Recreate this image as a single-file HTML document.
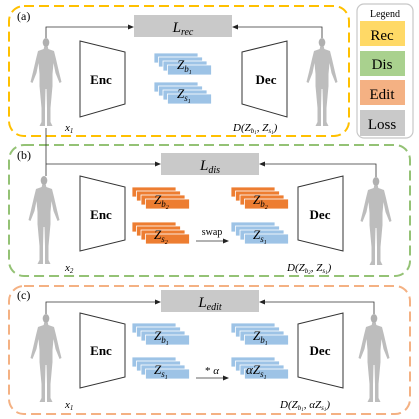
<!DOCTYPE html>
<html><head><style>
html,body{margin:0;padding:0;background:#fff;}
svg{display:block;font-family:"Liberation Serif",serif;}
</style></head><body>
<svg width="419" height="419" viewBox="0 0 419 419" xmlns="http://www.w3.org/2000/svg">
<defs>
<marker id="ar" markerWidth="6" markerHeight="6" refX="5" refY="3" orient="auto" markerUnits="userSpaceOnUse">
<path d="M0,0.5 L6,3 L0,5.5 Z" fill="#222"/></marker>
<g id="fig">
<ellipse cx="0" cy="4.5" rx="3.3" ry="4.5" fill="#b0b0b0"/>
<path d="M-1.8,8.5 L1.8,8.5 L2.3,11 L8,13 L10,21 L13,34 L15.5,44 L13.5,45 L9.5,35 L7.5,25 L6.5,36 L6.5,48 L4.5,70 L4.5,84 L6.5,88 L1,88 L1,70 L0.5,51 L-0.5,51 L-1,70 L-1,88 L-6.5,88 L-4.5,84 L-4.5,70 L-6.5,48 L-6.5,36 L-7.5,25 L-9.5,35 L-13.5,45 L-15.5,44 L-13,34 L-10,21 L-8,13 L-2.3,11 Z" fill="#bdbdbd"/>
</g>
<g id="sb"><rect width="44" height="10" fill="#9dc3e6" stroke="#fff" stroke-width="0.8"/></g>
<g id="so"><rect width="44" height="10" fill="#ed7d31" stroke="#fff" stroke-width="0.8"/></g>
</defs>

<!-- legend -->
<rect x="357" y="4" width="56" height="134" rx="7" fill="#fff" stroke="#c8c8c8" stroke-width="1.2"/>
<text x="385" y="17" font-size="10" text-anchor="middle">Legend</text>
<rect x="360" y="21" width="45" height="25" fill="#ffd966"/>
<text x="382" y="40" font-size="15" text-anchor="middle">Rec</text>
<rect x="360" y="51" width="45" height="25" fill="#a9d18e"/>
<text x="382" y="69" font-size="15" text-anchor="middle">Dis</text>
<rect x="360" y="80" width="45" height="25" fill="#f4b183"/>
<text x="382" y="99" font-size="15" text-anchor="middle">Edit</text>
<rect x="360" y="110" width="45" height="26" fill="#c9c9c9"/>
<text x="382" y="129" font-size="15" text-anchor="middle">Loss</text>

<!-- panel a -->
<rect x="9" y="6" width="340" height="130" rx="15" fill="none" stroke="#ffc000" stroke-width="2" stroke-dasharray="10,5"/>
<text x="17" y="20" font-size="12">(a)</text>
<rect x="134" y="15" width="98" height="22" fill="#c9c9c9"/>
<text x="183" y="32" font-size="15" font-style="italic" text-anchor="middle">L<tspan font-size="10" dy="3">rec</tspan></text>
<path d="M46,38 V27 H133" fill="none" stroke="#333" stroke-width="0.8" marker-end="url(#ar)"/>
<path d="M322,38 V27 H233" fill="none" stroke="#333" stroke-width="0.8" marker-end="url(#ar)"/>
<path d="M80,41 L125,52 L125,104 L80,117 Z" fill="#fff" stroke="#333" stroke-width="1"/>
<text x="101" y="84" font-size="13" font-weight="bold" text-anchor="middle">Enc</text>
<path d="M242,52 L287,41 L287,117 L242,104 Z" fill="#fff" stroke="#333" stroke-width="1"/>
<text x="266" y="84" font-size="13" font-weight="bold" text-anchor="middle">Dec</text>
<g transform="translate(154,53)"><use href="#sb"/><use href="#sb" x="4.5" y="4"/><use href="#sb" x="9" y="8"/><use href="#sb" x="13.5" y="12"/></g>
<text x="177" y="69" font-size="13" font-style="italic">Z<tspan font-size="9" dy="3">b</tspan><tspan font-size="6" dy="2">1</tspan></text>
<g transform="translate(154,82)"><use href="#sb"/><use href="#sb" x="4.5" y="4"/><use href="#sb" x="9" y="8"/><use href="#sb" x="13.5" y="12"/></g>
<text x="177" y="98" font-size="13" font-style="italic">Z<tspan font-size="9" dy="3">s</tspan><tspan font-size="6" dy="2">1</tspan></text>
<use href="#fig" transform="translate(46,38)"/>
<use href="#fig" transform="translate(322,38)"/>
<text x="65" y="131" font-size="11" font-style="italic">x<tspan font-size="7" dy="2">1</tspan></text>
<text x="233" y="131" font-size="11" font-style="italic">D(Z<tspan font-size="7" dy="2">b</tspan><tspan font-size="5" dy="1">1</tspan><tspan dy="-3">, Z</tspan><tspan font-size="7" dy="2">s</tspan><tspan font-size="5" dy="1">1</tspan><tspan dy="-3">)</tspan></text>

<!-- panel b -->
<rect x="9" y="145" width="401" height="131" rx="15" fill="none" stroke="#70ad47" stroke-opacity="0.75" stroke-width="2" stroke-dasharray="10,5"/>
<text x="17" y="159" font-size="12">(b)</text>
<rect x="161" y="153" width="98" height="22" fill="#c9c9c9"/>
<text x="210" y="170" font-size="15" font-style="italic" text-anchor="middle">L<tspan font-size="10" dy="3">dis</tspan></text>
<path d="M46,128 V176" fill="none" stroke="#333" stroke-width="0.8"/>
<path d="M46,164 H160" fill="none" stroke="#333" stroke-width="0.8" marker-end="url(#ar)"/>
<path d="M376,177 V164 H260" fill="none" stroke="#333" stroke-width="0.8" marker-end="url(#ar)"/>
<path d="M80,176 L125,187 L125,240 L80,251 Z" fill="#fff" stroke="#333" stroke-width="1"/>
<text x="101" y="219" font-size="13" font-weight="bold" text-anchor="middle">Enc</text>
<path d="M298,187 L343,176 L343,251 L298,240 Z" fill="#fff" stroke="#333" stroke-width="1"/>
<text x="320" y="219" font-size="13" font-weight="bold" text-anchor="middle">Dec</text>
<g transform="translate(132,187)"><use href="#so"/><use href="#so" x="4.5" y="4"/><use href="#so" x="9" y="8"/><use href="#so" x="13.5" y="12"/></g>
<text x="154" y="204" font-size="13" font-style="italic">Z<tspan font-size="9" dy="3">b</tspan><tspan font-size="6" dy="2">2</tspan></text>
<g transform="translate(132,222)"><use href="#so"/><use href="#so" x="4.5" y="4"/><use href="#so" x="9" y="8"/><use href="#so" x="13.5" y="12"/></g>
<text x="154" y="239" font-size="13" font-style="italic">Z<tspan font-size="9" dy="3">s</tspan><tspan font-size="6" dy="2">2</tspan></text>
<g transform="translate(231,187)"><use href="#so"/><use href="#so" x="4.5" y="4"/><use href="#so" x="9" y="8"/><use href="#so" x="13.5" y="12"/></g>
<text x="253" y="204" font-size="13" font-style="italic">Z<tspan font-size="9" dy="3">b</tspan><tspan font-size="6" dy="2">2</tspan></text>
<g transform="translate(231,222)"><use href="#sb"/><use href="#sb" x="4.5" y="4"/><use href="#sb" x="9" y="8"/><use href="#sb" x="13.5" y="12"/></g>
<text x="253" y="239" font-size="13" font-style="italic">Z<tspan font-size="9" dy="3">s</tspan><tspan font-size="6" dy="2">1</tspan></text>
<text x="212" y="235" font-size="10" text-anchor="middle">swap</text>
<path d="M196,241 H228" stroke="#333" stroke-width="0.8" marker-end="url(#ar)"/>
<use href="#fig" transform="translate(44,176)"/>
<use href="#fig" transform="translate(376,177)"/>
<text x="65" y="271" font-size="11" font-style="italic">x<tspan font-size="7" dy="2">2</tspan></text>
<text x="287" y="271" font-size="11" font-style="italic">D(Z<tspan font-size="7" dy="2">b</tspan><tspan font-size="5" dy="1">2</tspan><tspan dy="-3">, Z</tspan><tspan font-size="7" dy="2">s</tspan><tspan font-size="5" dy="1">1</tspan><tspan dy="-3">)</tspan></text>

<!-- panel c -->
<rect x="9" y="286" width="401" height="128" rx="15" fill="none" stroke="#f4b183" stroke-width="2" stroke-dasharray="10,5"/>
<text x="17" y="299" font-size="12">(c)</text>
<rect x="161" y="290" width="98" height="22" fill="#c9c9c9"/>
<text x="210" y="307" font-size="15" font-style="italic" text-anchor="middle">L<tspan font-size="10" dy="3">edit</tspan></text>
<path d="M46,314 V302 H160" fill="none" stroke="#333" stroke-width="0.8" marker-end="url(#ar)"/>
<path d="M374,314 V302 H260" fill="none" stroke="#333" stroke-width="0.8" marker-end="url(#ar)"/>
<path d="M80,313 L125,324 L125,377 L80,388 Z" fill="#fff" stroke="#333" stroke-width="1"/>
<text x="101" y="355" font-size="13" font-weight="bold" text-anchor="middle">Enc</text>
<path d="M298,324 L343,313 L343,388 L298,377 Z" fill="#fff" stroke="#333" stroke-width="1"/>
<text x="320" y="355" font-size="13" font-weight="bold" text-anchor="middle">Dec</text>
<g transform="translate(132,323)"><use href="#sb"/><use href="#sb" x="4.5" y="4"/><use href="#sb" x="9" y="8"/><use href="#sb" x="13.5" y="12"/></g>
<text x="154" y="340" font-size="13" font-style="italic">Z<tspan font-size="9" dy="3">b</tspan><tspan font-size="6" dy="2">1</tspan></text>
<g transform="translate(132,357)"><use href="#sb"/><use href="#sb" x="4.5" y="4"/><use href="#sb" x="9" y="8"/><use href="#sb" x="13.5" y="12"/></g>
<text x="154" y="374" font-size="13" font-style="italic">Z<tspan font-size="9" dy="3">s</tspan><tspan font-size="6" dy="2">1</tspan></text>
<g transform="translate(231,323)"><use href="#sb"/><use href="#sb" x="4.5" y="4"/><use href="#sb" x="9" y="8"/><use href="#sb" x="13.5" y="12"/></g>
<text x="253" y="340" font-size="13" font-style="italic">Z<tspan font-size="9" dy="3">b</tspan><tspan font-size="6" dy="2">1</tspan></text>
<g transform="translate(231,357)"><use href="#sb"/><use href="#sb" x="4.5" y="4"/><use href="#sb" x="9" y="8"/><use href="#sb" x="13.5" y="12"/></g>
<text x="246" y="374" font-size="13" font-style="italic">αZ<tspan font-size="9" dy="3">s</tspan><tspan font-size="6" dy="2">1</tspan></text>
<text x="212" y="374" font-size="11" text-anchor="middle">* <tspan font-style="italic">α</tspan></text>
<path d="M196,378 H228" stroke="#333" stroke-width="0.8" marker-end="url(#ar)"/>
<use href="#fig" transform="translate(46,314)"/>
<use href="#fig" transform="translate(374,314)"/>
<text x="65" y="408" font-size="11" font-style="italic">x<tspan font-size="7" dy="2">1</tspan></text>
<text x="280" y="408" font-size="11" font-style="italic">D(Z<tspan font-size="7" dy="2">b</tspan><tspan font-size="5" dy="1">1</tspan><tspan dy="-3">, αZ</tspan><tspan font-size="7" dy="2">s</tspan><tspan font-size="5" dy="1">1</tspan><tspan dy="-3">)</tspan></text>
</svg>
</body></html>
